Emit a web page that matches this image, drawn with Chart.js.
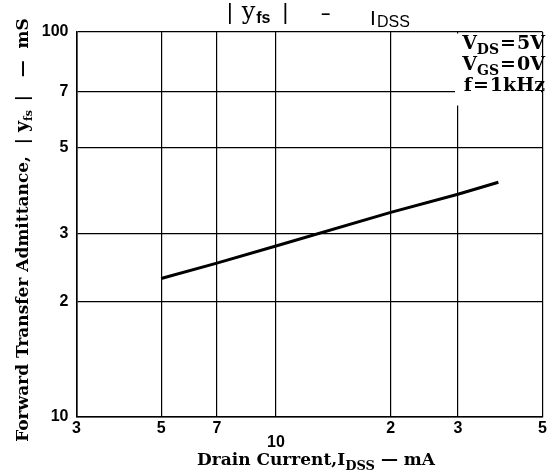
<!DOCTYPE html>
<html lang="en">
<head>
<meta charset="UTF-8" />
<title>|yfs| - IDSS</title>
<script src="https://cdn.jsdelivr.net/npm/chart.js"></script>
<style>
  html, body { margin: 0; padding: 0; background: #fff; }
  #wrap { width: 552px; height: 475px; }
</style>
</head>
<body>
<div id="wrap"><canvas id="myChart"></canvas></div>
<script>
// values (mA, mS)
const drainCurrent = [5, 7, 10, 20, 30, 38.3];
const admittance = [22.9, 25.1, 27.8, 34.0, 37.9, 40.7];

const xTicks = [3, 5, 7, 10, 20, 30, 50];
const xTickLabels = ["3", "5", "7", "10", "2", "3", "5"];
const yTicks = [10, 20, 30, 50, 70, 100];
const yTickLabels = ["10", "2", "3", "5", "7", "100"];

const SERIF = "'DejaVu Serif', serif";
const SANS = "'Liberation Sans', Arial, sans-serif";

// draw a run of text pieces one after another
function drawRun(ctx, parts, x, y, align) {
  let total = 0;
  parts.forEach((p) => {
    ctx.font = p.font;
    total += ctx.measureText(p.text).width + (p.gap || 0);
  });
  let cx = align === "right" ? x - total : align === "center" ? x - total / 2 : x;
  parts.forEach((p) => {
    ctx.font = p.font;
    ctx.fillText(p.text, cx, y + (p.dy || 0));
    cx += ctx.measureText(p.text).width + (p.gap || 0);
  });
}

const textPlugin = {
  id: "texts",
  afterDraw(chart) {
    const ctx = chart.ctx;
    const area = chart.chartArea;
    ctx.save();
    ctx.fillStyle = "#000";
    ctx.textBaseline = "alphabetic";

    // title
    drawRun(ctx, [
      { text: "|", font: "22px " + SANS, gap: 9 },
      { text: "y", font: "24px " + SERIF, gap: 1 },
      { text: "fs", font: "bold 16px " + SANS, dy: 4, gap: 12 },
      { text: "|", font: "22px " + SANS, gap: 33 },
      { text: "–", font: "bold 16px " + SANS, gap: 40 },
      { text: "I", font: "21px " + SANS, dy: 6, gap: 1 },
      { text: "DSS", font: "16px " + SANS, dy: 8 },
    ], 227, 19, "left");

    // conditions box
    ctx.fillStyle = "#fff";
    ctx.fillRect(455, area.top + 1.5, area.right - 456.5, 72);
    ctx.fillStyle = "#000";
    const big = "bold 19px " + SERIF;
    const sub = "bold 14px " + SERIF;
    drawRun(ctx, [{ text: "V", font: big }, { text: "DS", font: sub, dy: 5, gap: 1 }, { text: "=", font: big, gap: 1 }, { text: "5V", font: big }], 545, 49, "right");
    drawRun(ctx, [{ text: "V", font: big }, { text: "GS", font: sub, dy: 5, gap: 1 }, { text: "=", font: big, gap: 1 }, { text: "0V", font: big }], 545, 70, "right");
    drawRun(ctx, [{ text: "f", font: big, gap: 1 }, { text: "=", font: big, gap: 1 }, { text: "1kHz", font: big }], 545, 91, "right");

    // x title
    drawRun(ctx, [
      { text: "Drain Current,I", font: "bold 17px " + SERIF },
      { text: "DSS", font: "bold 13px " + SERIF, dy: 5, gap: 6 },
      { text: "— mA", font: "bold 17px " + SERIF },
    ], 316, 465, "center");

    // y title
    ctx.translate(28, 230);
    ctx.rotate(-Math.PI / 2);
    drawRun(ctx, [
      { text: "Forward Transfer Admittance,  | ", font: "bold 17px " + SERIF },
      { text: "y", font: "bold 19px " + SERIF },
      { text: "fs", font: "bold 11px " + SERIF, dy: 4, gap: 3 },
      { text: " |   —  mS", font: "bold 17px " + SERIF },
    ], 0, 0, "center");
    ctx.restore();
  },
};

const ctx = document.getElementById("myChart").getContext("2d");
const myChart = new Chart(ctx, {
  type: "scatter",
  data: {
    datasets: [
      {
        data: drainCurrent.map((x, i) => ({ x: x, y: admittance[i] })),
        showLine: true,
        borderColor: "#000",
        borderWidth: 3,
        pointRadius: 0,
        fill: false,
      },
    ],
  },
  options: {
    responsive: true,
    maintainAspectRatio: false,
    animation: false,
    layout: { padding: { top: 32, right: 6, bottom: 0, left: 0 } },
    plugins: { legend: { display: false }, tooltip: { enabled: false } },
    scales: {
      x: {
        type: "logarithmic",
        min: 3,
        max: 50,
        afterBuildTicks: (s) => { s.ticks = xTicks.map((v) => ({ value: v })); },
        afterFit: (s) => { s.height = 58; },
        ticks: {
          autoSkip: false,
          maxRotation: 0,
          padding: 5,
          color: "#000",
          font: { family: SANS, size: 16, weight: "bold", lineHeight: "14px" },
          callback: (v) => {
            const i = xTicks.indexOf(v);
            return v === 10 ? ["", xTickLabels[i]] : xTickLabels[i];
          },
        },
        grid: { color: "#000", lineWidth: 1.2, drawTicks: false },
        border: { color: "#000", width: 1.6 },
      },
      y: {
        type: "logarithmic",
        min: 10,
        max: 100,
        afterBuildTicks: (s) => { s.ticks = yTicks.map((v) => ({ value: v })); },
        afterFit: (s) => { s.width = 76.5; },
        ticks: {
          autoSkip: false,
          padding: 8,
          color: "#000",
          font: { family: SANS, size: 16, weight: "bold" },
          callback: (v) => yTickLabels[yTicks.indexOf(v)],
        },
        grid: { color: "#000", lineWidth: 1.2, drawTicks: false },
        border: { color: "#000", width: 1.6 },
      },
    },
  },
  plugins: [textPlugin],
});
</script>
</body>
</html>
